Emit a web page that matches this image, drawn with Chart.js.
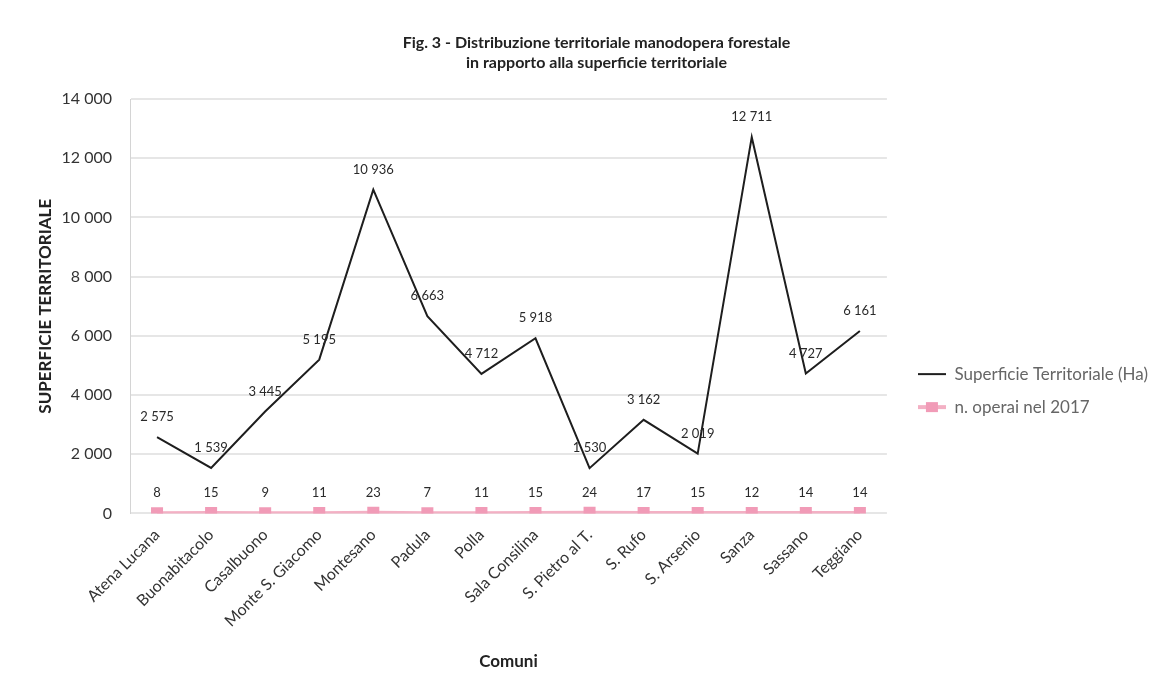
<!DOCTYPE html>
<html>
<head>
<meta charset="utf-8">
<script src="https://cdn.jsdelivr.net/npm/chart.js@4/dist/chart.umd.min.js"></script>
<style>
html,body{margin:0;padding:0;background:#fff;}
#wrap{position:relative;width:1158px;height:685px;}
</style>
</head>
<body>
<div id="wrap"><canvas id="c"></canvas></div>
<script>
const comuni = ["Atena Lucana","Buonabitacolo","Casalbuono","Monte S. Giacomo","Montesano","Padula","Polla","Sala Consilina","S. Pietro al T.","S. Rufo","S. Arsenio","Sanza","Sassano","Teggiano"];
const superficie = [2575,1539,3445,5195,10936,6663,4712,5918,1530,3162,2019,12711,4727,6161];
const operai = [8,15,9,11,23,7,11,15,24,17,15,12,14,14];
const yTicks = [0,2000,4000,6000,8000,10000,12000,14000];

const FONT = "Lato, 'Open Sans', sans-serif";
const BLACK = '#1e1e1e';
const PINK_LINE = '#f3b0c4';
const PINK_MARK = '#f19bb7';
const LEGEND_GAP = 15;
function fmt(v){ return String(v).replace(/\B(?=(\d{3})+(?!\d))/g, " "); }

function legendIcon(kind){
  const c = document.createElement('canvas');
  c.width = 28; c.height = 12;
  const g = c.getContext('2d');
  if (kind === 0) {
    g.strokeStyle = BLACK; g.lineWidth = 2;
    g.beginPath(); g.moveTo(0, 6); g.lineTo(28, 6); g.stroke();
  } else {
    g.strokeStyle = PINK_LINE; g.lineWidth = 4;
    g.beginPath(); g.moveTo(0, 6); g.lineTo(28, 6); g.stroke();
    g.fillStyle = PINK_MARK; g.fillRect(8, 1, 12, 10);
  }
  return c;
}

const labelPlugin = {
  id: 'valueLabels',
  afterDatasetsDraw(chart){
    const ctx = chart.ctx;
    ctx.save();
    ctx.font = "13px " + FONT;
    ctx.fillStyle = "#2a2a2a";
    ctx.textAlign = "center";
    ctx.textBaseline = "middle";
    chart.data.datasets.forEach((ds, i) => {
      const meta = chart.getDatasetMeta(i);
      meta.data.forEach((pt, j) => {
        ctx.fillText(fmt(ds.data[j]), pt.x, pt.y - 20);
      });
    });
    ctx.restore();
  }
};

// leave a gap between the plot and the legend on the right
const legendGapPlugin = {
  id: 'legendGap',
  beforeLayout(chart){
    const lg = chart.legend;
    if (lg && !lg._gapPatched) {
      const origFit = lg.fit.bind(lg);
      lg.fit = function(){ origFit(); this.width += LEGEND_GAP; };
      const origDraw = lg.draw.bind(lg);
      lg.draw = function(){
        const ctx = this.ctx;
        ctx.save(); ctx.translate(LEGEND_GAP, 0); origDraw(); ctx.restore();
      };
      lg._gapPatched = true;
    }
  }
};

new Chart(document.getElementById('c'), {
  type: 'line',
  data: {
    labels: comuni,
    datasets: [
      {
        label: 'Superficie Territoriale (Ha)',
        data: superficie,
        borderColor: BLACK,
        backgroundColor: BLACK,
        borderWidth: 2,
        pointRadius: 0,
        tension: 0
      },
      {
        label: 'n. operai nel 2017',
        data: operai,
        borderColor: PINK_LINE,
        backgroundColor: PINK_MARK,
        borderWidth: 4,
        pointStyle: 'rect',
        pointRadius: 8.5,
        pointBorderWidth: 0,
        tension: 0
      }
    ]
  },
  options: {
    responsive: true,
    maintainAspectRatio: false,
    animation: false,
    layout: { padding: { left: 35, right: 0, top: 22, bottom: 13 } },
    plugins: {
      title: {
        display: true,
        text: ['Fig. 3 - Distribuzione territoriale manodopera forestale', 'in rapporto alla superficie territoriale'],
        color: '#222',
        font: { family: FONT, size: 16, weight: 'bold', lineHeight: 1.25 },
        padding: { top: 11, bottom: 26 }
      },
      legend: {
        position: 'right',
        align: 'center',
        title: { display: true, text: ' ', font: { size: 1 }, padding: { top: 86, bottom: 0 } },
        labels: {
          color: '#222',
          font: { family: FONT, size: 17 },
          usePointStyle: true,
          pointStyleWidth: 28,
          padding: 16,
          generateLabels(chart){
            return chart.data.datasets.map((ds, i) => ({
              text: ds.label,
              fillStyle: ds.backgroundColor,
              strokeStyle: ds.borderColor,
              lineWidth: 0,
              pointStyle: legendIcon(i),
              datasetIndex: i,
              hidden: false
            }));
          }
        }
      },
      tooltip: { enabled: false }
    },
    scales: {
      x: {
        offset: true,
        grid: { display: false },
        border: { display: false },
        ticks: {
          color: '#333',
          font: { family: FONT, size: 16 },
          maxRotation: 45, minRotation: 45,
          autoSkip: false,
          padding: 4
        },
        title: {
          display: true,
          text: 'Comuni',
          color: '#222',
          font: { family: FONT, size: 17, weight: 'bold' },
          padding: { top: 17, bottom: 0 }
        }
      },
      y: {
        min: 0, max: 14000,
        afterBuildTicks(axis){ axis.ticks = yTicks.map(v => ({ value: v })); },
        afterFit(s){ s.width = 95; },
        grid: { color: '#e6e6e6', lineWidth: 2, drawTicks: false },
        border: { display: true, color: '#d4d4d4' },
        ticks: {
          color: '#333',
          font: { family: FONT, size: 16 },
          padding: 18,
          callback: v => fmt(v)
        },
        title: {
          display: true,
          text: 'SUPERFICIE TERRITORIALE',
          color: '#222',
          font: { family: FONT, size: 17, weight: 'bold' },
          padding: { top: 0, bottom: 0 }
        }
      }
    }
  },
  plugins: [labelPlugin, legendGapPlugin]
});
</script>
</body>
</html>
